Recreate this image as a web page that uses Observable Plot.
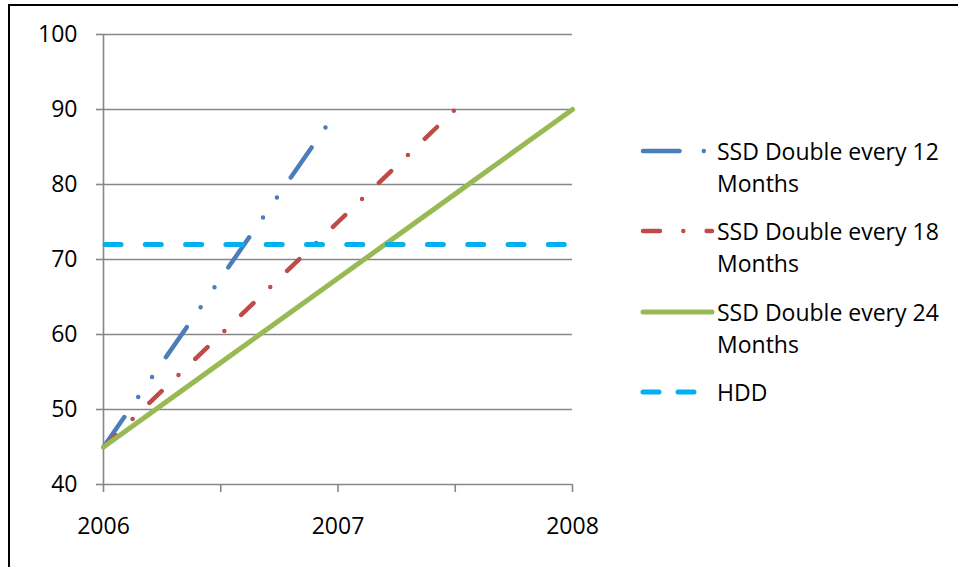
<!DOCTYPE html>
<html>
<head>
<meta charset="utf-8">
<script src="https://cdn.jsdelivr.net/npm/d3@7"></script>
<script src="https://cdn.jsdelivr.net/npm/@observablehq/plot@0.6"></script>
<style>
  html, body { margin: 0; padding: 0; background: #fff; }
  body { width: 958px; height: 567px; overflow: hidden; position: relative; font-family: "Open Sans", sans-serif; color: #000; }
  #frame { position: absolute; left: 8px; top: 4px; width: 1000px; height: 700px; border-left: 2.5px solid #000; border-top: 2px solid #000; }
  #chart { position: absolute; left: 0; top: 0; }
  #legend { position: absolute; left: 0; top: 0; width: 958px; height: 567px; pointer-events: none; }
  .item { position: absolute; left: 717px; font-size: 23px; line-height: 32px; white-space: nowrap; }
</style>
</head>
<body>
<div id="frame"></div>
<div id="chart"></div>
<div id="legend"></div>
<script>
// Projected capacity index over time, by doubling period
const years = [2006, 2006.5, 2007, 2007.5, 2008];
const ssd12 = [45, 67.5, 90, null, null];
const ssd18 = [45, 60, 75, 90, null];
const ssd24 = [45, 56.25, 67.5, 78.75, 90];
const hdd = [72, 72, 72, 72, 72];

const seriesNames = ["SSD Double every 12 Months", "SSD Double every 18 Months", "SSD Double every 24 Months", "HDD"];
const seriesValues = [ssd12, ssd18, ssd24, hdd];
const legendLines = [["SSD Double every 12", "Months"], ["SSD Double every 18", "Months"], ["SSD Double every 24", "Months"], ["HDD"]];

const yTicks = [40, 50, 60, 70, 80, 90, 100];
const xTicks = [2006, 2006.5, 2007, 2007.5, 2008];
const xLabels = [2006, 2007, 2008];

// line styles per series
const styles = [
  {stroke: "#4a7ebb", width: 4.5, dash: "36.5 24.3 0 24.3 0 24.3", offset: 0},
  {stroke: "#be4b48", width: 4.5, dash: "17 23.3 0 23.3", offset: 0},
  {stroke: "#98b954", width: 5, dash: null, offset: 0},
  {stroke: "#00b0f0", width: 5, dash: "16 24.3", offset: 38.8}
];

const rows = seriesNames.flatMap((name, s) =>
  years.map((x, i) => ({series: name, x, y: seriesValues[s][i]})).filter(d => d.y != null)
);

const gray = "#878787";

const lineMarks = seriesNames.map((name, s) => Plot.line(rows.filter(d => d.series === name), {
  x: "x", y: "y",
  stroke: styles[s].stroke,
  strokeWidth: styles[s].width,
  strokeDasharray: styles[s].dash,
  strokeDashoffset: styles[s].offset,
  strokeLinecap: "round",
  strokeLinejoin: "round"
}));

const chart = Plot.plot({
  width: 958,
  height: 567,
  marginLeft: 103,
  marginRight: 386,
  marginTop: 34,
  marginBottom: 83,
  style: {fontFamily: "'Open Sans', sans-serif", fontSize: "23px", color: "#000", background: "transparent"},
  x: {domain: [2006, 2008], label: null},
  y: {domain: [40, 100], label: null},
  marks: [
    Plot.gridY(yTicks, {stroke: gray, strokeOpacity: 1, strokeWidth: 1.6}),
    Plot.ruleX([2006], {stroke: gray, strokeWidth: 1.6}),
    Plot.axisY({ticks: yTicks, tickSize: 7, tickPadding: 19, stroke: gray, strokeWidth: 1.6, fontSize: 23, fill: "#000", label: null}),
    Plot.axisX({ticks: xTicks, tickSize: 8, tickPadding: 25, stroke: gray, strokeWidth: 1.6, fontSize: 23, fill: "#000", label: null,
      tickFormat: d => xLabels.includes(d) ? String(d) : ""}),
    ...lineMarks
  ]
});
document.getElementById("chart").appendChild(chart);

// Legend: line samples and wrapped series labels
const legend = document.getElementById("legend");
const ns = "http://www.w3.org/2000/svg";
const svg = document.createElementNS(ns, "svg");
svg.setAttribute("width", 958);
svg.setAttribute("height", 567);
legend.appendChild(svg);
const legendY = [151, 231, 312, 392];
const sampleX = [[643, 712], [643, 712], [643, 712], [643, 712]];
styles.forEach((st, i) => {
  const l = document.createElementNS(ns, "line");
  l.setAttribute("x1", sampleX[i][0]);
  l.setAttribute("x2", sampleX[i][1]);
  l.setAttribute("y1", legendY[i]);
  l.setAttribute("y2", legendY[i]);
  l.setAttribute("stroke", st.stroke);
  l.setAttribute("stroke-width", st.width);
  l.setAttribute("stroke-linecap", "round");
  if (st.dash) l.setAttribute("stroke-dasharray", i === 3 ? "16 19" : st.dash);
  svg.appendChild(l);
  const div = document.createElement("div");
  div.className = "item";
  div.style.top = (legendY[i] - 16) + "px";
  div.innerHTML = legendLines[i].join("<br>");
  legend.appendChild(div);
});
</script>
</body>
</html>
